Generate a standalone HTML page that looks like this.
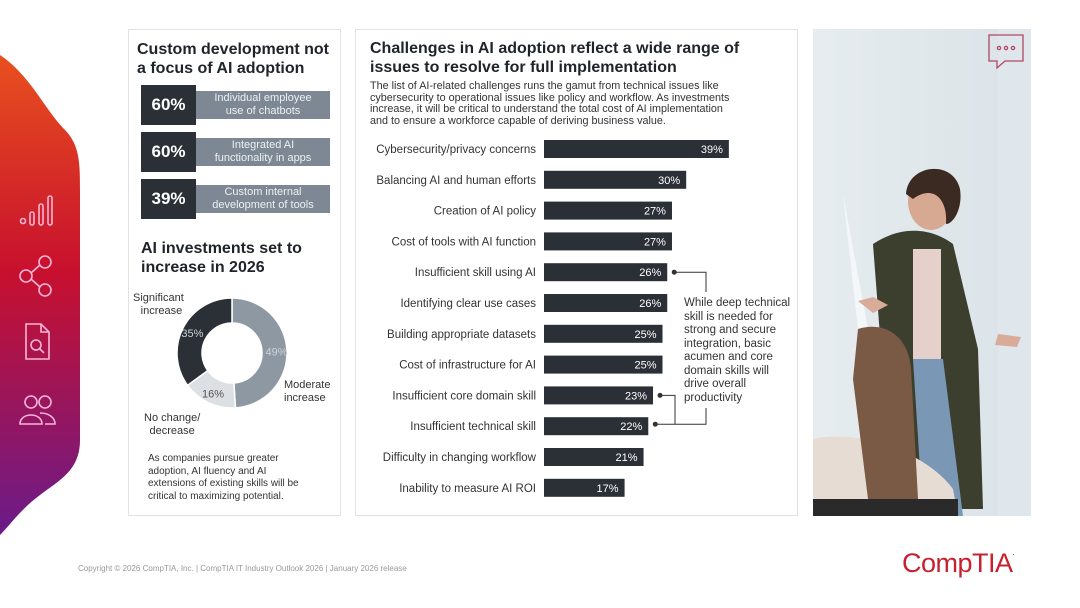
<!DOCTYPE html>
<html><head><meta charset="utf-8"><style>
body{margin:0;width:1080px;height:608px;background:#fff;font-family:"Liberation Sans",sans-serif;position:relative;overflow:hidden;color:#222}
.panel{position:absolute;border:1px solid #e2e2e2;background:#fff;box-sizing:border-box}
.h{font-weight:bold;font-size:16px;line-height:19px;color:#1f232a}
.stat{position:absolute;left:12px;height:40px}
.stat .n{position:absolute;left:0;top:0;width:55px;height:40px;background:#2b2f36;color:#fff;font-weight:bold;font-size:17px;line-height:40px;text-align:center}
.stat .t{position:absolute;left:55px;top:6px;width:134px;height:28px;background:#7d8894;color:#eef0f2;font-size:11px;line-height:13px;text-align:center;padding-top:1px;box-sizing:border-box}
.lbl{position:absolute;font-size:11px;color:#333}
</style></head><body>
<svg style="position:absolute;left:0;top:0" width="90" height="608"><defs><linearGradient id="sg" x1="0" y1="0" x2="0" y2="1"><stop offset="0" stop-color="#e8501e"/><stop offset="0.45" stop-color="#c8102e"/><stop offset="1" stop-color="#6a1b8a"/></linearGradient></defs>
<path d="M0 55 C30 75 45 110 65 130 C80 145 80 165 80 190 L80 440 C80 470 60 480 40 495 C20 510 10 525 0 535 Z" fill="url(#sg)"/>
<g stroke="#f7b4d8" fill="none" stroke-width="1.6">
<circle cx="23" cy="221" r="2.5"/><rect x="30" y="212" width="4" height="13" rx="2"/><rect x="39" y="204" width="4" height="21" rx="2"/><rect x="48" y="196" width="4" height="29" rx="2"/>
<circle cx="45" cy="262" r="6"/><circle cx="26" cy="276" r="6"/><circle cx="45" cy="290" r="6"/><line x1="31" y1="273" x2="40" y2="265"/><line x1="31" y1="279" x2="40" y2="287"/>
<path d="M26 324 h15 l8 8 v27 h-23 z M41 324 v8 h8"/><circle cx="36" cy="345" r="5"/><line x1="40" y1="349" x2="44" y2="353"/>
<circle cx="31" cy="402" r="6"/><circle cx="45" cy="402" r="6"/><path d="M20 424 c0-12 22-12 22 0 z M40 413 c8 0 15 4 15 11 h-10"/>
</g></svg>

<div class="panel" style="left:128px;top:29px;width:213px;height:487px">
 <div class="h" style="position:absolute;left:8px;top:10px">Custom development not<br>a focus of AI adoption</div>
 <div class="stat" style="top:55px"><div class="n">60%</div><div class="t">Individual employee<br>use of chatbots</div></div>
 <div class="stat" style="top:102px"><div class="n">60%</div><div class="t">Integrated AI<br>functionality in apps</div></div>
 <div class="stat" style="top:149px"><div class="n">39%</div><div class="t">Custom internal<br>development of tools</div></div>
 <div class="h" style="position:absolute;left:12px;top:209px">AI investments set to<br>increase in 2026</div>
 <svg id="donut" style="position:absolute;left:0;top:0" width="213" height="487"></svg>
 <div class="lbl" style="left:4px;top:262px;text-align:center;line-height:13px">Significant<br>&nbsp;&nbsp;increase</div>
 <div class="lbl" style="left:155px;top:349px;line-height:13px">Moderate<br>increase</div>
 <div class="lbl" style="left:15px;top:382px;text-align:center;line-height:13px">No change/<br>decrease</div>
 <div style="position:absolute;left:19px;top:423px;font-size:10px;line-height:12.5px;color:#333;width:190px">As companies pursue greater<br>adoption, AI fluency and AI<br>extensions of existing skills will be<br>critical to maximizing potential.</div>
</div>

<div class="panel" style="left:355px;top:29px;width:443px;height:487px">
 <div class="h" style="position:absolute;left:14px;top:9px;width:420px">Challenges in AI adoption reflect a wide range of issues to resolve for full implementation</div>
 <div style="position:absolute;left:14px;top:51px;width:420px;font-size:10.8px;line-height:11.5px;color:#333">The list of AI-related challenges runs the gamut from technical issues like<br>cybersecurity to operational issues like policy and workflow. As investments<br>increase, it will be critical to understand the total cost of AI implementation<br>and to ensure a workforce capable of deriving business value.</div>
</div>
<svg id="bars" style="position:absolute;left:0;top:0" width="1080" height="608"></svg>
<div style="position:absolute;left:684px;top:297px;width:118px;font-size:11.5px;line-height:13.5px;color:#333">While deep technical<br>skill is needed for<br>strong and secure<br>integration, basic<br>acumen and core<br>domain skills will<br>drive overall<br>productivity</div>

<svg style="position:absolute;left:813px;top:29px" width="218" height="487">
 <defs><linearGradient id="wall" x1="0" y1="0" x2="1" y2="0"><stop offset="0" stop-color="#e6ecef"/><stop offset="1" stop-color="#dae3e8"/></linearGradient></defs>
 <rect width="218" height="487" fill="url(#wall)"/>
 <rect x="185" y="0" width="33" height="487" fill="#e0e7ec"/>
 <path d="M30 165 L55 300 L45 300 Z" fill="#f4f7f9"/>
 <path d="M60 215 C90 195 120 200 140 215 L165 320 L170 480 L75 480 L68 320 Z" fill="#3c3f2e"/>
 <rect x="100" y="220" width="28" height="110" fill="#e6d0cc"/>
 <path d="M100 330 L130 330 L150 487 L110 487 Z" fill="#7b97b6"/>
 <ellipse cx="118" cy="172" rx="23" ry="29" fill="#d7a892"/>
 <path d="M93 165 C95 135 140 130 147 160 C150 180 140 195 133 195 C135 170 120 155 100 170 Z" fill="#3b2a22"/>
 <path d="M185 305 L208 308 L204 318 L182 316 Z" fill="#d8ac98"/>
 <path d="M45 272 L60 268 L75 276 L60 284 Z" fill="#d8ac98"/>
 <path d="M0 410 C40 400 110 420 140 460 L145 487 L0 487 Z" fill="#e6dcd3"/>
 <path d="M45 300 C70 292 95 305 98 340 L105 470 L55 470 L40 350 Z" fill="#7a5a44"/>
 <rect x="0" y="470" width="145" height="17" fill="#2a2a2a"/>
 <g stroke="#b0485e" fill="none" stroke-width="1.3"><path d="M176 6 h34 v26 h-18 l-8 7 v-7 h-8 z"/><circle cx="186" cy="19" r="1.6"/><circle cx="193" cy="19" r="1.6"/><circle cx="200" cy="19" r="1.6"/></g>
</svg>

<div style="position:absolute;left:78px;top:564px;font-size:8px;color:#999">Copyright © 2026 CompTIA, Inc. | CompTIA IT Industry Outlook 2026 | January 2026 release</div>
<div style="position:absolute;left:902px;top:548px;font-size:27px;color:#c8202f;letter-spacing:-0.5px">CompTIA<span style="font-size:8px;vertical-align:top">.</span></div>

<script>
const donutLabels=["Moderate increase","No change/decrease","Significant increase"];
const donutValues=[49,16,35];
const donutColors=["#8e98a3","#dcdfe3","#2b2f36"];
const cats=["Cybersecurity/privacy concerns","Balancing AI and human efforts","Creation of AI policy","Cost of tools with AI function","Insufficient skill using AI","Identifying clear use cases","Building appropriate datasets","Cost of infrastructure for AI","Insufficient core domain skill","Insufficient technical skill","Difficulty in changing workflow","Inability to measure AI ROI"];
const vals=[39,30,27,27,26,26,25,25,23,22,21,17];
const NS="http://www.w3.org/2000/svg";
function mk(p,t,a){const e=document.createElementNS(NS,t);for(const k in a)e.setAttribute(k,a[k]);p.appendChild(e);return e;}
// donut
const d=document.getElementById('donut');const cx=103,cy=323,R=55,r=30;
let tot=donutValues.reduce((a,b)=>a+b,0),acc=0;
donutValues.forEach((v,i)=>{
 const a0=acc/tot*2*Math.PI-Math.PI/2;acc+=v;const a1=acc/tot*2*Math.PI-Math.PI/2;
 const lg=(a1-a0)>Math.PI?1:0;
 const p=`M${cx+R*Math.cos(a0)} ${cy+R*Math.sin(a0)} A${R} ${R} 0 ${lg} 1 ${cx+R*Math.cos(a1)} ${cy+R*Math.sin(a1)} L${cx+r*Math.cos(a1)} ${cy+r*Math.sin(a1)} A${r} ${r} 0 ${lg} 0 ${cx+r*Math.cos(a0)} ${cy+r*Math.sin(a0)} Z`;
 const s=mk(d,'path',{d:p,fill:donutColors[i],stroke:'#fff','stroke-width':1.5});
 
 
 const am=(a0+a1)/2,rm=(R+r)/2+2;
 const t=mk(d,'text',{x:cx+rm*Math.cos(am),y:cy+rm*Math.sin(am)+4,'text-anchor':'middle','font-size':11,fill:i==1?'#555':'#ccd2d8'});
 t.textContent=v+'%';
 
 
});
// bars
const b=document.getElementById('bars');const x0=544,scale=4.74,y0=149,step=30.8,bh=18;
const xs=v=>v*scale, ys=i=>y0+i*step;
cats.forEach((c,i)=>{
 const y=ys(i);
 const l=mk(b,'text',{x:536,y:y+4,'text-anchor':'end','font-size':11.5,fill:'#333'});l.textContent=c;
 
 
 const w=xs(vals[i]);
 const rct=mk(b,'rect',{x:x0,y:y-bh/2,width:w,height:bh,fill:'#2b2f36'});
 
 
 const v=mk(b,'text',{x:x0+w-6,y:y+4,'text-anchor':'end','font-size':11,fill:'#fff'});v.textContent=vals[i]+'%';
 
 
});
// callout connectors
const cl=mk(b,'g',{stroke:'#333',fill:'none','stroke-width':1});


const e4=x0+xs(vals[4])+7, e8=x0+xs(vals[8])+7, e9=x0+xs(vals[9])+7;
mk(cl,'path',{d:`M${e4} ${ys(4)} H706 V292`});
mk(cl,'path',{d:`M${e8} ${ys(8)} H675 V${ys(9)-2} M${e9} ${ys(9)-2} H706 V408`});
[[e4,ys(4)],[e8,ys(8)],[e9,ys(9)-2]].forEach(p=>mk(cl,'circle',{cx:p[0],cy:p[1],r:2,fill:'#333'}));
</script>
</body></html>
